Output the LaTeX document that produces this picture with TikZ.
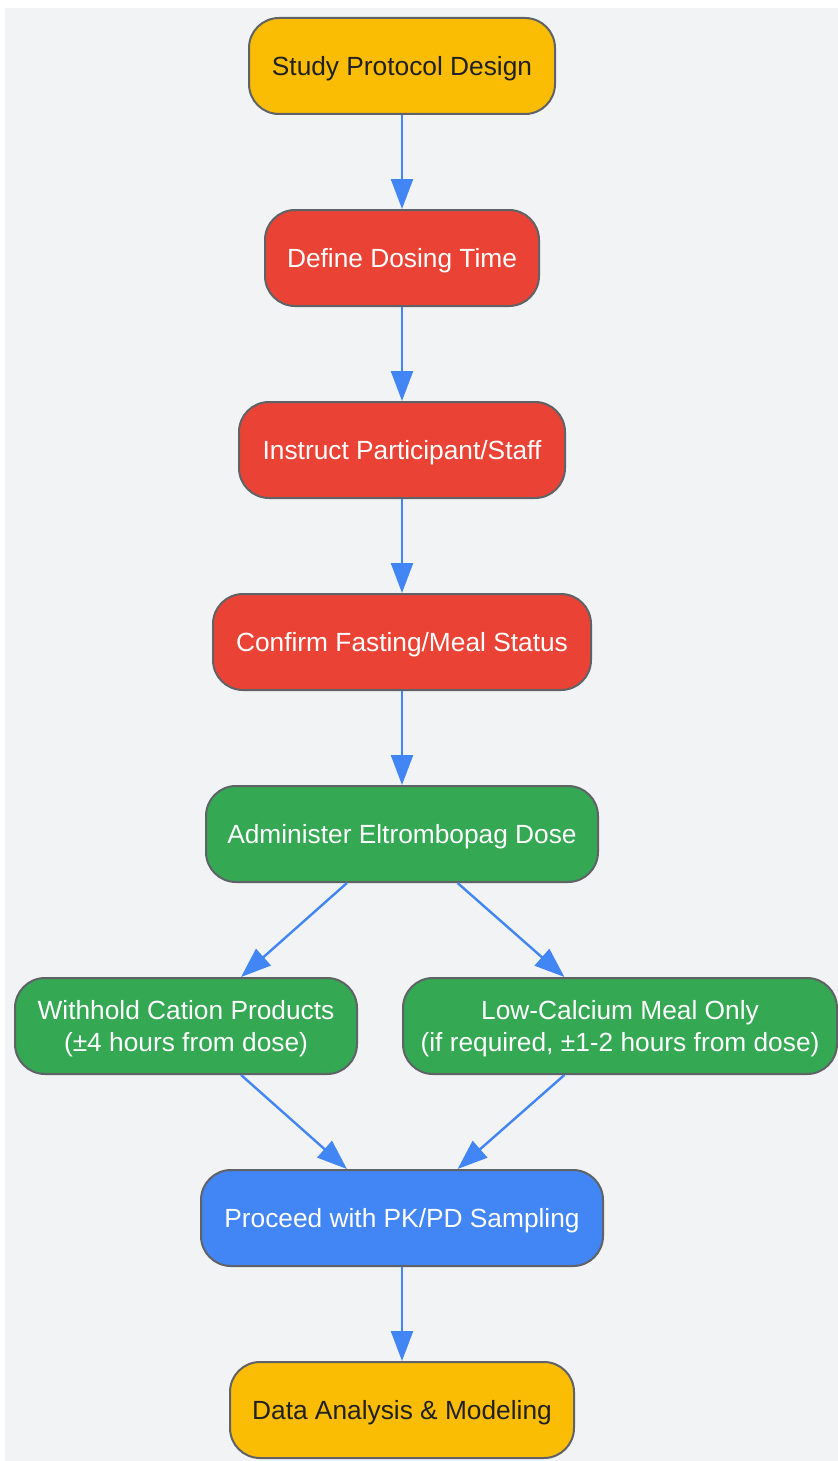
\documentclass[tikz,border=0pt]{standalone}
\usepackage{fontspec}
\setmainfont{Liberation Sans}
\usetikzlibrary{arrows.meta}
\definecolor{bgc}{HTML}{F1F3F4}
\definecolor{yel}{HTML}{FBBC04}
\definecolor{redc}{HTML}{EA4335}
\definecolor{grn}{HTML}{34A853}
\definecolor{blu}{HTML}{4285F4}
\definecolor{brd}{HTML}{5F6368}
\definecolor{dark}{HTML}{202124}
\begin{document}
\begin{tikzpicture}[x=0.5pt,y=-0.5pt,
  box/.style={draw=brd, line width=1pt, rounded corners=15pt, minimum height=48pt,
    align=center, font=\fontsize{13.15}{16}\selectfont, inner sep=0pt,
    text height=9.6pt, text depth=0pt},
  two/.style={text height=25.6pt, text depth=0pt},
  yb/.style={box, fill=yel, text=dark},
  rb/.style={box, fill=redc, text=white},
  gb/.style={box, fill=grn, text=white},
  bb/.style={box, fill=blu, text=white},
  arr/.style={draw=blu, line width=1.2pt, -{Triangle[length=15pt,width=11pt]}}]
\useasboundingbox (0,0) rectangle (838,1461);
\fill[bgc] (5,8) rectangle (838,1461);
\node[yb, minimum width=153pt] (n1) at (402,66) {Study Protocol Design};
\node[rb, minimum width=137pt] (n2) at (402,258) {Define Dosing Time};
\node[rb, minimum width=163pt] (n3) at (402,450) {Instruct Participant/Staff};
\node[rb, minimum width=189pt] (n4) at (402,642) {Confirm Fasting/Meal Status};
\node[gb, minimum width=196pt] (n5) at (402,834) {Administer Eltrombopag Dose};
\node[gb, two, minimum width=171pt] (n6) at (186,1026) {Withhold Cation Products\\(±4 hours from dose)};
\node[gb, two, minimum width=217pt] (n7) at (620,1026) {Low-Calcium Meal Only\\(if required, ±1-2 hours from dose)};
\node[bb, minimum width=201pt] (n8) at (402,1218) {Proceed with PK/PD Sampling};
\node[yb, minimum width=172pt] (n9) at (402,1410) {Data Analysis \& Modeling};
\draw[arr] (n1) -- (n2);
\draw[arr] (n2) -- (n3);
\draw[arr] (n3) -- (n4);
\draw[arr] (n4) -- (n5);
\draw[arr] (n5) -- (n6);
\draw[arr] (n5) -- (n7);
\draw[arr] (n6) -- (n8);
\draw[arr] (n7) -- (n8);
\draw[arr] (n8) -- (n9);
\end{tikzpicture}
\end{document}
